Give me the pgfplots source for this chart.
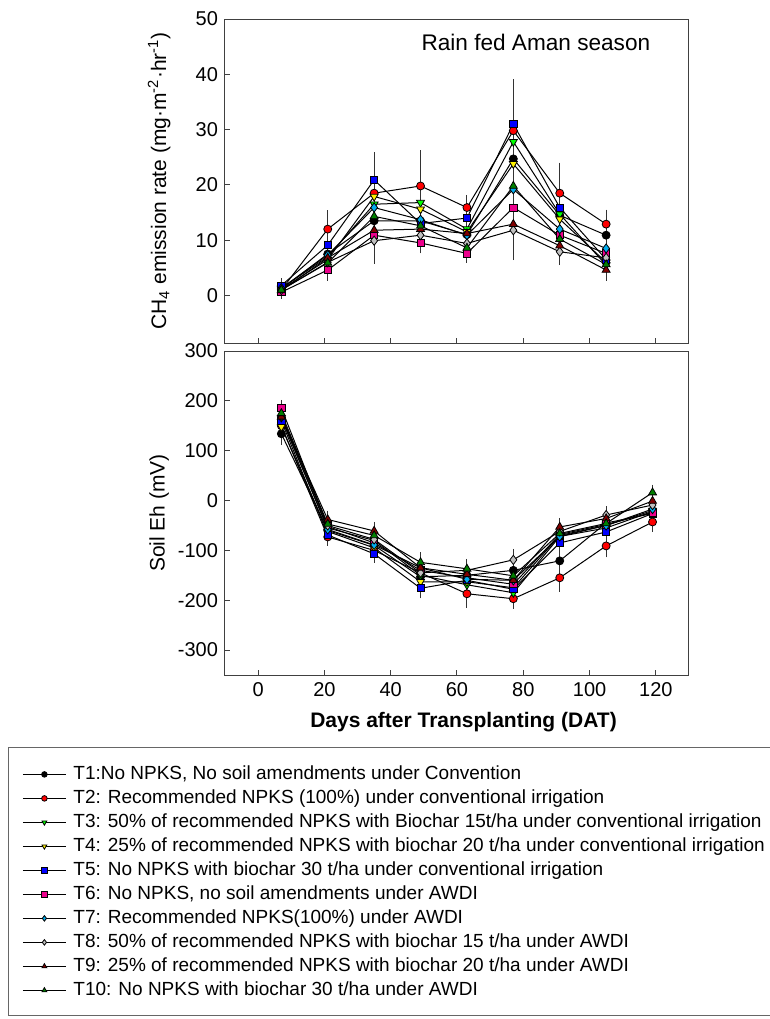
\documentclass[border=0pt]{standalone}
\usepackage{fontspec}
\setmainfont{Liberation Sans}
\usepackage{pgfplots}
\usepackage{pgfplotstable}
\pgfplotsset{compat=1.18}

\definecolor{maroonT}{HTML}{800000}
\definecolor{dkgreenT}{HTML}{008000}
\definecolor{limeT}{HTML}{00FF00}
\definecolor{ltgrayT}{HTML}{C0C0C0}

% x  ch  ech  eh  eeh   (ch = CH4 emission, eh = soil Eh)
\pgfplotstableread{
x ch ech eh eeh
7 1.2 0.4 134 12
21 7.5 1.2 -60 8
35 13.5 2.5 -90 8
49 13.5 2.5 -153 12
63 11.0 1.2 -150 10
77 24.7 5.0 -140 10
91 14.5 2.5 -121 10
105 10.9 1.0 -45 8
119 nan nan -26 8
}\Tone
\pgfplotstableread{
x ch ech eh eeh
7 1.0 0.4 150 10
21 12.0 2.5 -73 8
35 18.5 6.0 -100 8
49 19.8 5.6 -145 10
63 15.9 1.4 -187 18
77 29.8 7.5 -197 10
91 18.5 4.6 -155 18
105 12.9 1.7 -91 13
119 nan nan -43 10
}\Ttwo
\pgfplotstableread{
x ch ech eh eeh
7 1.3 0.4 165 10
21 7.0 1.0 -55 8
35 16.5 2.0 -80 8
49 16.8 5.8 -150 10
63 12.0 1.2 -169 10
77 27.8 6.5 -185 10
91 14.7 2.0 -72 10
105 5.5 1.0 -55 8
119 nan nan -22 8
}\Tthree
\pgfplotstableread{
x ch ech eh eeh
7 1.1 0.4 148 10
21 6.5 1.0 -62 8
35 17.9 4.1 -95 8
49 15.6 1.5 -163 10
63 11.5 1.2 -163 10
77 23.8 3.0 -175 10
91 13.8 2.0 -70 8
105 6.0 1.0 -50 8
119 nan nan -20 8
}\Tfour
\pgfplotstableread{
x ch ech eh eeh
7 1.8 0.4 160 10
21 9.1 1.5 -69 8
35 20.9 4.1 -107 8
49 13.0 1.5 -176 10
63 14.0 1.2 -160 10
77 31.0 7.2 -178 10
91 15.9 2.0 -85 10
105 6.5 1.0 -63 8
119 nan nan -26 8
}\Tfive
\pgfplotstableread{
x ch ech eh eeh
7 0.6 0.3 186 6
21 4.6 1.0 -52 8
35 10.9 1.5 -85 8
49 9.5 1.0 -140 10
63 7.6 0.8 -155 10
77 15.9 1.5 -168 10
91 10.9 1.5 -68 8
105 7.6 1.0 -48 8
119 nan nan -24 8
}\Tsix
\pgfplotstableread{
x ch ech eh eeh
7 1.3 0.4 167 8
21 7.3 1.0 -58 8
35 15.9 2.0 -89 8
49 13.7 1.5 -135 10
63 10.9 1.0 -158 10
77 19.2 2.5 -160 10
91 12.0 1.5 -72 8
105 8.5 1.0 -50 8
119 nan nan -17 8
}\Tseven
\pgfplotstableread{
x ch ech eh eeh
7 1.0 0.3 170 8
21 6.0 1.0 -50 8
35 9.9 3.3 -78 8
49 10.9 1.0 -145 10
63 9.4 1.0 -140 10
77 11.8 4.5 -119 12
91 7.9 1.5 -62 8
105 6.8 1.0 -29 8
119 nan nan -9 8
}\Teight
\pgfplotstableread{
x ch ech eh eeh
7 0.9 0.3 168 8
21 6.8 1.0 -38 8
35 11.8 1.5 -61 8
49 12.0 1.2 -135 10
63 11.2 1.0 -148 10
77 12.9 4.7 -160 10
91 9.0 1.0 -53 8
105 4.6 1.0 -36 8
119 nan nan -1 8
}\Tnine
\pgfplotstableread{
x ch ech eh eeh
7 1.0 0.3 175 8
21 5.9 1.0 -47 8
35 14.3 2.0 -70 8
49 12.6 1.2 -124 10
63 8.6 1.0 -137 10
77 19.8 2.5 -151 10
91 10.2 1.5 -66 8
105 5.6 1.0 -46 8
119 nan nan 16 6
}\Tten

\pgfplotsset{
  ser/.style={black, line width=0.5pt,
    error bars/y dir=both, error bars/y explicit,
    error bars/error bar style={black!80, line width=0.5pt},
    error bars/error mark options={black!80, mark size=2.5pt, line width=0.5pt}},
  t1/.style={ser, mark=*, mark size=2pt, mark options={solid, draw=black, line width=0.4pt, fill=black}},
  t2/.style={ser, mark=*, mark size=2pt, mark options={solid, draw=black, line width=0.4pt, fill=red}},
  t3/.style={ser, mark=triangle*, mark size=2.3pt, mark options={solid, draw=black, line width=0.4pt, fill=limeT, rotate=180}},
  t4/.style={ser, mark=triangle*, mark size=2.3pt, mark options={solid, draw=black, line width=0.4pt, fill=yellow, rotate=180}},
  t5/.style={ser, mark=square*, mark size=1.8pt, mark options={solid, draw=black, line width=0.4pt, fill=blue}},
  t6/.style={ser, mark=square*, mark size=1.8pt, mark options={solid, draw=black, line width=0.4pt, fill=magenta}},
  t7/.style={ser, mark=diamond*, mark size=2.3pt, mark options={solid, draw=black, line width=0.4pt, fill=cyan}},
  t8/.style={ser, mark=diamond*, mark size=2.3pt, mark options={solid, draw=black, line width=0.4pt, fill=ltgrayT}},
  t9/.style={ser, mark=triangle*, mark size=2.3pt, mark options={solid, draw=black, line width=0.4pt, fill=maroonT}},
  t10/.style={ser, mark=triangle*, mark size=2.3pt, mark options={solid, draw=black, line width=0.4pt, fill=dkgreenT}},
  panel/.style={
    width=232pt, height=162pt, scale only axis,
    xmin=-10, xmax=130, xtick={0,20,...,120},
    tick align=inside, tick pos=left, major tick length=2.5pt,
    axis line style={black!75, line width=0.5pt},
    tick style={black!75, line width=0.5pt},
    tick label style={font=\fontsize{10}{12}\selectfont},
    label style={font=\fontsize{10.5}{12}\selectfont},
    /pgf/number format/assume math mode=true,
    unbounded coords=discard,
  },
}

\begin{document}
\begin{tikzpicture}
\useasboundingbox (0,0) rectangle (385pt,-509.5pt);

\begin{axis}[panel, at={(112.5pt,-9.5pt)}, anchor=north west,
  ymin=-8.6, ymax=50, ytick={0,10,...,50},
  xticklabels={},
  ylabel={CH\textsubscript{4} emission rate (mg·m\textsuperscript{-2}·hr\textsuperscript{-1})},
  ylabel style={at={(axis description cs:-0.142,0.5)}, anchor=center},
]
\addplot[t1] table[x=x, y=ch, y error=ech] {\Tone};
\addplot[t2] table[x=x, y=ch, y error=ech] {\Ttwo};
\addplot[t3] table[x=x, y=ch, y error=ech] {\Tthree};
\addplot[t4] table[x=x, y=ch, y error=ech] {\Tfour};
\addplot[t5] table[x=x, y=ch, y error=ech] {\Tfive};
\addplot[t6] table[x=x, y=ch, y error=ech] {\Tsix};
\addplot[t7] table[x=x, y=ch, y error=ech] {\Tseven};
\addplot[t8] table[x=x, y=ch, y error=ech] {\Teight};
\addplot[t9] table[x=x, y=ch, y error=ech] {\Tnine};
\addplot[t10] table[x=x, y=ch, y error=ech] {\Tten};
\node[font=\fontsize{11.3}{13}\selectfont] at (axis cs:83.8,45.7) {Rain fed Aman season};
\end{axis}

\begin{axis}[panel, at={(112.5pt,-175.5pt)}, anchor=north west,
  ymin=-350, ymax=300, ytick={-300,-200,...,300},
  ylabel={Soil Eh (mV)},
  ylabel style={at={(axis description cs:-0.142,0.5)}, anchor=center},
  xlabel={\bfseries Days after Transplanting (DAT)},
  xlabel style={at={(axis description cs:0.514,-0.145)}, anchor=center},
  legend cell align=left,
  legend image code/.code={\draw[mark repeat=2, mark phase=2, #1, mark size=1.4pt]
    plot coordinates {(0pt,0pt) (10.75pt,0pt) (21.5pt,0pt)};},
  legend style={at={(axis description cs:-0.4375,-0.2685)}, anchor=north west,
    draw=none, fill=none, inner sep=0pt, row sep=0pt, column sep=3.5pt,
    font=\fontsize{9.5}{12}\selectfont,
    nodes={inner sep=0pt, text height=8.5pt, text depth=3.5pt}},
]
\addplot[t1] table[x=x, y=eh, y error=eeh] {\Tone};
\addplot[t2] table[x=x, y=eh, y error=eeh] {\Ttwo};
\addplot[t3] table[x=x, y=eh, y error=eeh] {\Tthree};
\addplot[t4] table[x=x, y=eh, y error=eeh] {\Tfour};
\addplot[t5] table[x=x, y=eh, y error=eeh] {\Tfive};
\addplot[t6] table[x=x, y=eh, y error=eeh] {\Tsix};
\addplot[t7] table[x=x, y=eh, y error=eeh] {\Tseven};
\addplot[t8] table[x=x, y=eh, y error=eeh] {\Teight};
\addplot[t9] table[x=x, y=eh, y error=eeh] {\Tnine};
\addplot[t10] table[x=x, y=eh, y error=eeh] {\Tten};
\legend{T1:No NPKS{,} No soil amendments under Convention,
  T2: Recommended NPKS (100\%) under conventional irrigation,
  T3: 50\% of recommended NPKS with Biochar 15t/ha under conventional irrigation,
  T4: 25\% of recommended NPKS with biochar 20 t/ha under conventional irrigation,
  T5: No NPKS with biochar 30 t/ha under conventional irrigation,
  T6: No NPKS{,} no soil amendments under AWDI,
  T7: Recommended NPKS(100\%) under AWDI,
  T8: 50\% of recommended NPKS with biochar 15 t/ha under AWDI,
  T9: 25\% of recommended NPKS with biochar 20 t/ha under AWDI,
  T10: No NPKS with biochar 30 t/ha under AWDI}
\end{axis}

\draw[black!60, line width=0.5pt] (4pt,-373.5pt) rectangle (400pt,-507.5pt);
\end{tikzpicture}
\end{document}
